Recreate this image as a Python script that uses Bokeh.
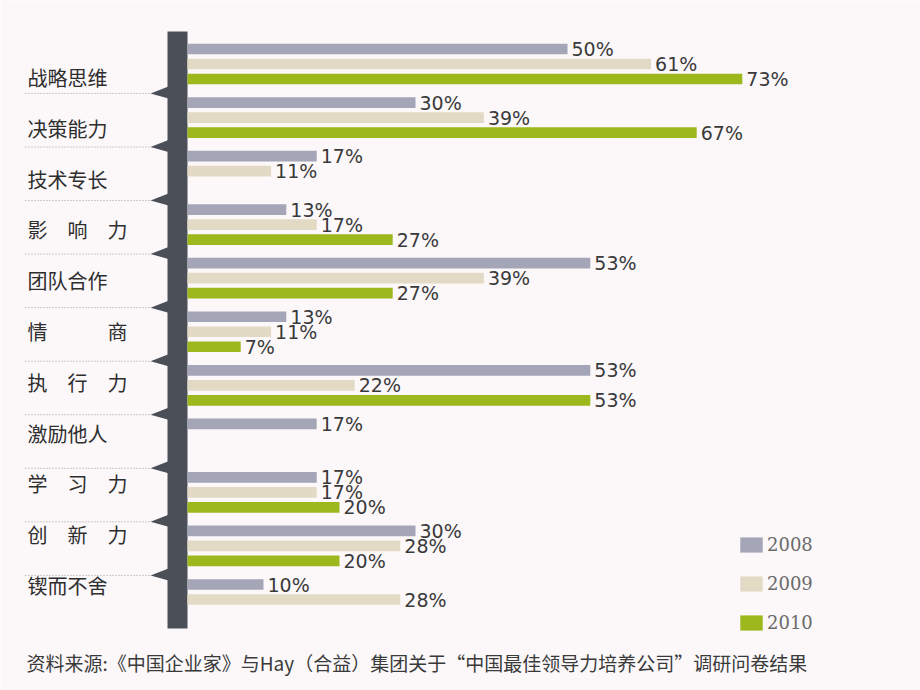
from bokeh.plotting import figure
from bokeh.models import ColumnDataSource, Range1d, Legend, LegendItem
from bokeh.core.properties import value
from bokeh.embed import file_html
from bokeh.resources import INLINE

# ---------------- data ----------------
categories = ["战略思维", "决策能力", "技术专长", "影响力", "团队合作", "情商",
              "执行力", "激励他人", "学习力", "创新力", "锲而不舍"]
series_names = ["2008", "2009", "2010"]
v2008 = [50, 30, 17, 13, 53, 13, 53, 17, 17, 30, 10]
v2009 = [61, 39, 11, 17, 39, 11, 22, None, 17, 28, 28]
v2010 = [73, 67, None, 27, 27, 7, 53, None, 20, 20, None]
caption = "资料来源:《中国企业家》与Hay（合益）集团关于“中国最佳领导力培养公司”调研问卷结果"

# ---------------- style / layout ----------------
colors = ["#a4a5b7", "#e3dac6", "#9cb81d"]
BG = "#fcf8fa"
SPINE = "#4b4f58"
W, H = 920, 690
X0_PX, PX_PER = 187.0, 7.6      # spine edge in pixels, pixels per percent
Y0_PX, ROW_PX = 63.5, 53.55     # first row centre, row pitch in pixels
LABEL_Y0_PX, LABEL_PITCH_PX = 77.0, 50.8   # category-label column layout
OFFSETS = [-0.28, 0.0, 0.28]
BAR_H = 0.2


def fx(px):
    return (px - X0_PX) / PX_PER


def fy(py):
    return (py - Y0_PX) / ROW_PX


p = figure(width=W, height=H, output_backend="svg", toolbar_location=None,
           x_range=Range1d(fx(0), fx(W)), y_range=Range1d(fy(H), fy(0)),
           x_axis_location=None, y_axis_location=None,
           min_border=0, background_fill_color=BG, border_fill_color=BG,
           outline_line_color=None)
p.xgrid.visible = False
p.ygrid.visible = False

n = len(categories)

# spine
p.quad(left=[fx(167)], right=[0], top=[fy(31)], bottom=[fy(628)],
       fill_color=SPINE, line_color=None)

# notches and dotted separators between categories
nx, ny, lx, ly = [], [], [], []
for i in range(n - 1):
    yb = i + 0.55
    nx.append([fx(150), fx(168), fx(168)])
    ny.append([yb, yb - 7 / ROW_PX, yb + 5 / ROW_PX])
    lx.append([fx(25), fx(150)])
    ly.append([yb, yb])
p.multi_line(xs=lx, ys=ly, line_color="#9a9a9a", line_width=1, line_dash="1 2")
p.patches(xs=nx, ys=ny, fill_color=SPINE, line_color=None)

# bars and value labels
renderers = []
for j, vals in enumerate([v2008, v2009, v2010]):
    ys, vs, labs = [], [], []
    for i, v in enumerate(vals):
        if v is None:
            continue
        ys.append(i + OFFSETS[j])
        vs.append(v)
        labs.append(f"{v}%")
    src = ColumnDataSource(dict(y=ys, v=vs, label=labs))
    r = p.hbar(y="y", left=0, right="v", height=BAR_H, source=src,
               fill_color=colors[j], line_color=None)
    renderers.append(r)
    p.text(x="v", y="y", text="label", source=src, x_offset=4,
           text_baseline="middle", text_align="left",
           text_font=value("DejaVu Sans"), text_font_size="19px",
           text_color="#3a3a3a")

# category labels (spread like the original)
disp = []
for c in categories:
    if len(c) == 3:
        disp.append("\u3000".join(c))
    elif len(c) == 2:
        disp.append(c[0] + "\u3000\u3000\u3000" + c[1])
    else:
        disp.append(c)
label_y = [fy(LABEL_Y0_PX + LABEL_PITCH_PX * i) for i in range(n)]
p.text(x=[fx(27)] * n, y=label_y, text=disp,
       text_baseline="middle", text_align="left",
       text_font=value("Noto Sans CJK SC"), text_font_size="20px",
       text_color="#2e2e2e")

# caption
p.text(x=[fx(26)], y=[fy(662)], text=[caption],
       text_baseline="middle", text_align="left",
       text_font=value("Noto Sans CJK SC"), text_font_size="19px",
       text_color="#3a3a3a")

# legend
legend = Legend(items=[LegendItem(label=s, renderers=[r])
                       for s, r in zip(series_names, renderers)],
                location=(737, 57), orientation="vertical",
                glyph_width=28, glyph_height=19, label_height=19,
                spacing=18, padding=0, margin=0, label_standoff=2,
                border_line_color=None, background_fill_alpha=0,
                label_text_font="DejaVu Serif", label_text_font_size="18px",
                label_text_color="#6a6a6a")
p.add_layout(legend)

open("out.html", "w").write(file_html(p, INLINE))
